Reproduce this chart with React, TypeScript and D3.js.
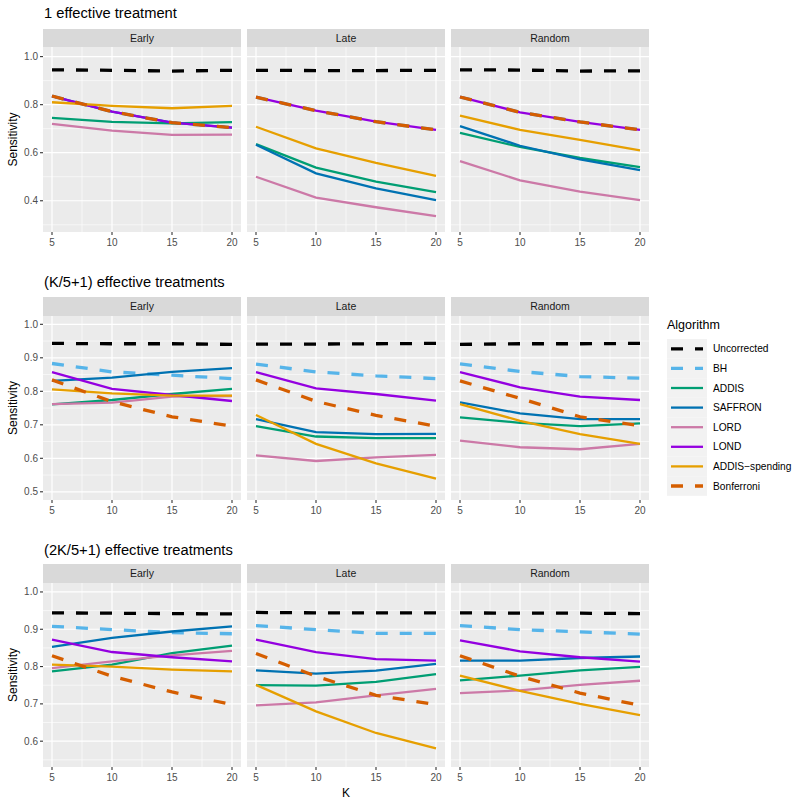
import React from 'react';
import { scaleLinear, line } from 'd3';

const algorithms = ['Uncorrected', 'BH', 'ADDIS', 'SAFFRON', 'LORD', 'LOND', 'ADDIS\u2212spending', 'Bonferroni'];
const colors = ['#000000', '#56B4E9', '#009E73', '#0072B2', '#CC79A7', '#9400E0', '#E69F00', '#D55E00'];
const dashed = [true, true, false, false, false, false, false, true];
const kValues = [5, 10, 15, 20];
const timings = ['Early', 'Late', 'Random'];
const rowTitles = ['1 effective treatment', '(K/5+1) effective treatments', '(2K/5+1) effective treatments'];

// values per algorithm (same order as `algorithms`), at K = 5, 10, 15, 20
const oneEarly = [
  [0.945, 0.943, 0.940, 0.943],
  [0.836, 0.771, 0.725, 0.704],
  [0.745, 0.728, 0.722, 0.727],
  [0.836, 0.771, 0.725, 0.704],
  [0.720, 0.692, 0.674, 0.675],
  [0.836, 0.771, 0.725, 0.704],
  [0.810, 0.795, 0.785, 0.795],
  [0.836, 0.771, 0.725, 0.704],
];
const oneLate = [
  [0.943, 0.942, 0.942, 0.943],
  [0.831, 0.775, 0.729, 0.695],
  [0.636, 0.538, 0.480, 0.436],
  [0.633, 0.514, 0.452, 0.403],
  [0.500, 0.413, 0.373, 0.336],
  [0.831, 0.775, 0.729, 0.695],
  [0.708, 0.618, 0.558, 0.504],
  [0.831, 0.775, 0.729, 0.695],
];
const oneRandom = [
  [0.945, 0.944, 0.940, 0.941],
  [0.832, 0.768, 0.728, 0.695],
  [0.683, 0.624, 0.578, 0.540],
  [0.711, 0.629, 0.572, 0.528],
  [0.565, 0.485, 0.438, 0.403],
  [0.832, 0.768, 0.728, 0.695],
  [0.754, 0.695, 0.653, 0.610],
  [0.832, 0.768, 0.728, 0.695],
];
const kEarly = [
  [0.943, 0.942, 0.942, 0.940],
  [0.883, 0.858, 0.848, 0.838],
  [0.761, 0.774, 0.792, 0.807],
  [0.831, 0.841, 0.858, 0.869],
  [0.762, 0.766, 0.784, 0.786],
  [0.857, 0.807, 0.789, 0.771],
  [0.806, 0.794, 0.787, 0.787],
  [0.834, 0.769, 0.724, 0.696],
];
const kLate = [
  [0.941, 0.941, 0.942, 0.943],
  [0.881, 0.858, 0.846, 0.838],
  [0.696, 0.665, 0.660, 0.660],
  [0.717, 0.678, 0.672, 0.673],
  [0.609, 0.592, 0.603, 0.610],
  [0.857, 0.809, 0.792, 0.772],
  [0.729, 0.643, 0.585, 0.539],
  [0.834, 0.770, 0.728, 0.696],
];
const kRandom = [
  [0.940, 0.942, 0.942, 0.943],
  [0.882, 0.859, 0.844, 0.839],
  [0.722, 0.706, 0.696, 0.704],
  [0.767, 0.734, 0.717, 0.717],
  [0.653, 0.633, 0.627, 0.643],
  [0.857, 0.812, 0.784, 0.774],
  [0.762, 0.712, 0.672, 0.643],
  [0.831, 0.779, 0.724, 0.697],
];
const twoKEarly = [
  [0.944, 0.943, 0.942, 0.941],
  [0.908, 0.899, 0.891, 0.888],
  [0.787, 0.805, 0.836, 0.856],
  [0.853, 0.877, 0.894, 0.908],
  [0.796, 0.814, 0.830, 0.842],
  [0.872, 0.839, 0.825, 0.814],
  [0.805, 0.800, 0.792, 0.787],
  [0.829, 0.774, 0.732, 0.698],
];
const twoKLate = [
  [0.945, 0.944, 0.944, 0.944],
  [0.910, 0.899, 0.889, 0.889],
  [0.750, 0.749, 0.759, 0.780],
  [0.790, 0.781, 0.789, 0.807],
  [0.696, 0.704, 0.723, 0.740],
  [0.872, 0.839, 0.820, 0.816],
  [0.751, 0.680, 0.622, 0.581],
  [0.835, 0.774, 0.723, 0.698],
];
const twoKRandom = [
  [0.944, 0.943, 0.943, 0.942],
  [0.910, 0.899, 0.893, 0.887],
  [0.763, 0.776, 0.790, 0.799],
  [0.816, 0.816, 0.823, 0.827],
  [0.729, 0.736, 0.751, 0.762],
  [0.870, 0.841, 0.825, 0.813],
  [0.776, 0.735, 0.700, 0.670],
  [0.829, 0.774, 0.729, 0.696],
];

const rowData = [
  [oneEarly, oneLate, oneRandom],
  [kEarly, kLate, kRandom],
  [twoKEarly, twoKLate, twoKRandom],
];
const rowYDomains = [[0.27, 1.04], [0.4755, 1.0248], [0.5308, 1.024]];
const rowYTicks = [[0.4, 0.6, 0.8, 1.0], [0.5, 0.6, 0.7, 0.8, 0.9, 1.0], [0.6, 0.7, 0.8, 0.9, 1.0]];
const rowYMinor = [[0.3, 0.5, 0.7, 0.9], [0.55, 0.65, 0.75, 0.85, 0.95], [0.55, 0.65, 0.75, 0.85, 0.95]];
const xMinor = [7.5, 12.5, 17.5];

const rowLayout = [
  { title: 18, stripTop: 29, panelTop: 47, panelBottom: 232 },
  { title: 287, stripTop: 297, panelTop: 316, panelBottom: 500 },
  { title: 555, stripTop: 564, panelTop: 583, panelBottom: 767 },
];
const panelLefts = [43, 247, 451];
const panelWidth = 198;
const font = 'Liberation Sans, Arial, Helvetica, sans-serif';

function Panel({ left, top, bottom, yDomain, yTicks, yMinor, series, showY }) {
  const x = scaleLinear().domain([4.25, 20.75]).range([left, left + panelWidth]);
  const y = scaleLinear().domain(yDomain).range([bottom, top]);
  const path = line<number>().x((d, i) => x(kValues[i])).y(d => y(d));
  return (
    <g>
      <rect x={left} y={top} width={panelWidth} height={bottom - top} fill="#EBEBEB" />
      {yMinor.map(t => (
        <line key={'ym' + t} x1={left} x2={left + panelWidth} y1={y(t)} y2={y(t)} stroke="#fff" strokeWidth={0.6} />
      ))}
      {xMinor.map(t => (
        <line key={'xm' + t} x1={x(t)} x2={x(t)} y1={top} y2={bottom} stroke="#fff" strokeWidth={0.6} />
      ))}
      {yTicks.map(t => (
        <line key={'yM' + t} x1={left} x2={left + panelWidth} y1={y(t)} y2={y(t)} stroke="#fff" strokeWidth={1.2} />
      ))}
      {kValues.map(t => (
        <line key={'xM' + t} x1={x(t)} x2={x(t)} y1={top} y2={bottom} stroke="#fff" strokeWidth={1.2} />
      ))}
      {series.map((vals, i) => (
        <path
          key={algorithms[i]}
          d={path(vals)}
          fill="none"
          stroke={colors[i]}
          strokeWidth={dashed[i] ? 3.3 : 2.3}
          strokeDasharray={dashed[i] ? '12 12' : undefined}
        />
      ))}
      {kValues.map(t => (
        <g key={'xt' + t}>
          <line x1={x(t)} x2={x(t)} y1={bottom} y2={bottom + 3} stroke="#333" strokeWidth={1.1} />
          <text x={x(t)} y={bottom + 14} textAnchor="middle" fontSize={10} fill="#4D4D4D" fontFamily={font}>{t}</text>
        </g>
      ))}
      {showY && yTicks.map(t => (
        <g key={'yt' + t}>
          <line x1={left - 3} x2={left} y1={y(t)} y2={y(t)} stroke="#333" strokeWidth={1.1} />
          <text x={left - 5} y={y(t) + 3.5} textAnchor="end" fontSize={10} fill="#4D4D4D" fontFamily={font}>{t.toFixed(1)}</text>
        </g>
      ))}
    </g>
  );
}

export default function App() {
  const legendTop = 339;
  const keyH = 19.6;
  return (
    <svg width={800} height={804} style={{ position: 'absolute', left: 0, top: 0, background: '#fff' }}>
      {rowLayout.map((r, ri) => (
        <g key={ri}>
          <text x={44} y={r.title} fontSize={14.7} fontFamily={font} fill="#000">{rowTitles[ri]}</text>
          <text
            transform={`translate(17, ${(r.panelTop + r.panelBottom) / 2}) rotate(-90)`}
            textAnchor="middle" fontSize={12} fontFamily={font} fill="#000"
          >Sensitivity</text>
          {timings.map((tm, pi) => (
            <g key={tm}>
              <rect x={panelLefts[pi]} y={r.stripTop} width={panelWidth} height={r.panelTop - r.stripTop} fill="#D9D9D9" />
              <text x={panelLefts[pi] + panelWidth / 2} y={(r.stripTop + r.panelTop) / 2 + 3.8} textAnchor="middle"
                fontSize={10.5} fill="#1A1A1A" fontFamily={font}>{tm}</text>
              <Panel
                left={panelLefts[pi]} top={r.panelTop} bottom={r.panelBottom}
                yDomain={rowYDomains[ri]} yTicks={rowYTicks[ri]} yMinor={rowYMinor[ri]}
                series={rowData[ri][pi]} showY={pi === 0}
              />
            </g>
          ))}
        </g>
      ))}
      <text x={346} y={797} textAnchor="middle" fontSize={12} fontFamily={font}>K</text>
      {/* legend */}
      <text x={667} y={329} fontSize={12.5} fontFamily={font}>Algorithm</text>
      {algorithms.map((a, i) => {
        const yy = legendTop + i * keyH;
        return (
          <g key={a}>
            <rect x={667} y={yy} width={40} height={keyH} fill="#F2F2F2" />
            <line x1={671} x2={703} y1={yy + keyH / 2} y2={yy + keyH / 2} stroke={colors[i]}
              strokeWidth={dashed[i] ? 3.3 : 2.3} strokeDasharray={dashed[i] ? '12 12' : undefined} />
            <text x={713} y={yy + keyH / 2 + 3.6} fontSize={10.2} fontFamily={font} fill="#000">{a}</text>
          </g>
        );
      })}
    </svg>
  );
}
